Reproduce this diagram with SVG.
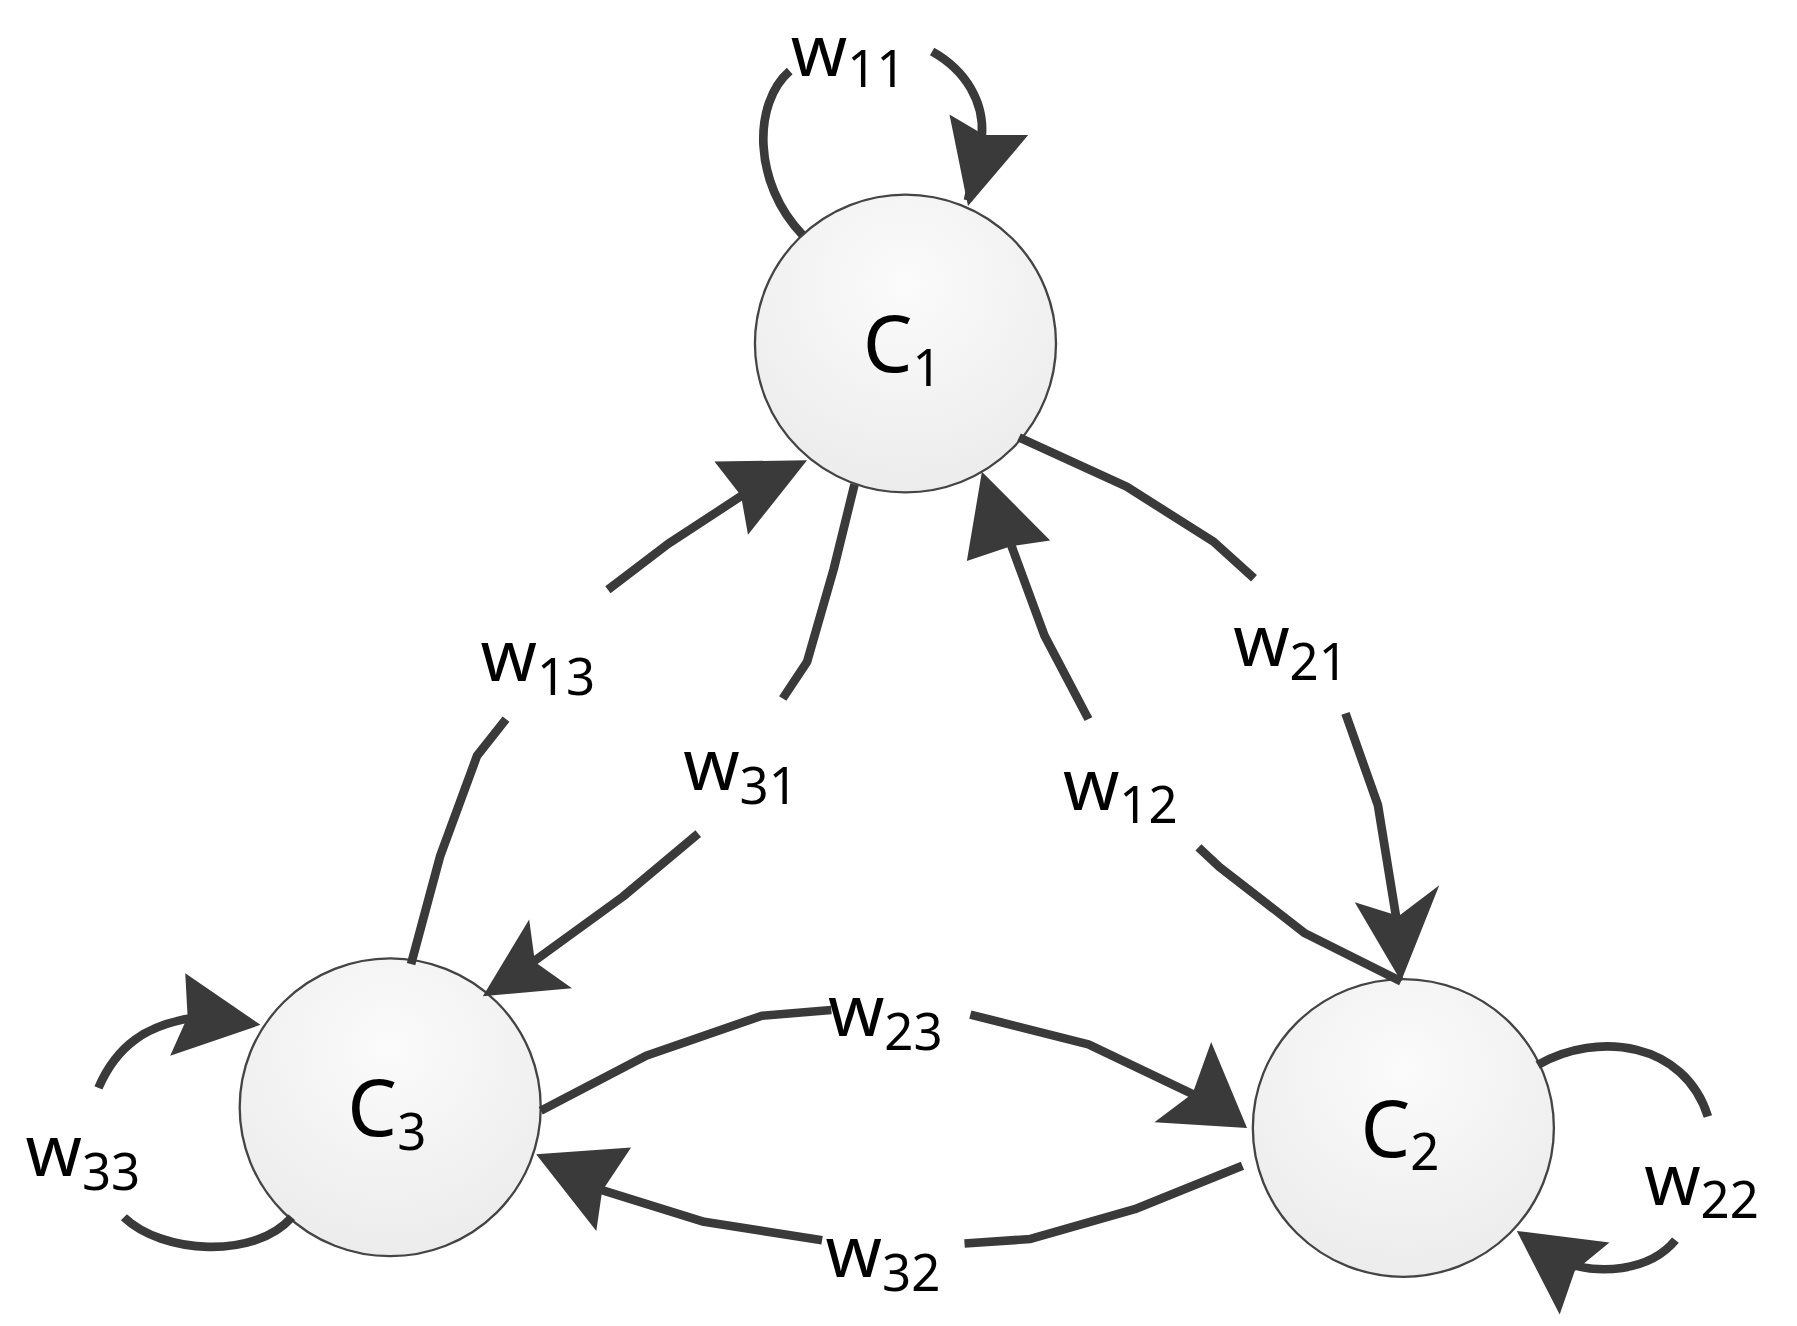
<svg xmlns="http://www.w3.org/2000/svg" width="1797" height="1326" viewBox="0 0 1797 1326">
<defs>
<radialGradient id="g" cx="0.5" cy="0.3" r="0.7"><stop offset="0" stop-color="#fbfbfb"/><stop offset="1" stop-color="#ececec"/></radialGradient>
<style>
.n{fill:url(#g);stroke:#444;stroke-width:2}
.e{fill:none;stroke:#3a3a3a;stroke-width:7.5;stroke-linejoin:round}
.h{fill:#3a3a3a}
.t{font-family:"Noto Sans","Open Sans","Liberation Sans",sans-serif;fill:#000}
.w{font-size:62px}
.s{font-size:44px}
.c{font-size:68px}
</style>
</defs>
<rect width="1797" height="1326" fill="#fff"/>
<g transform="scale(1.1579,1.1451)">
<g id="C1"><circle class="n" cx="782" cy="300" r="130"/><text class="t c" x="745" y="325">C<tspan class="s" dy="12">1</tspan></text></g>
<g id="C3"><circle class="n" cx="337" cy="967" r="130"/><text class="t c" x="300" y="992">C<tspan class="s" dy="12">3</tspan></text></g>
<g id="C2"><circle class="n" cx="1212" cy="985" r="130"/><text class="t c" x="1175" y="1010">C<tspan class="s" dy="12">2</tspan></text></g>
<g id="edges">
<path class="e" d="M693,205 C650,160 650,90 682,62"/>
<path class="e" d="M805,45 C835,62 850,90 848,118 L836,175"/>
<polygon class="h" points="836,180 820,100 850,118 888,118"/>
<path class="e" d="M355,842 L380,748 L412,660 L437,628"/>
<path class="e" d="M525,515 L577,475 L660,420"/>
<polygon class="h" points="697,402 646,467 640,433 617,403"/>
<path class="e" d="M738,423 L720,497 L697,578 L676,610"/>
<path class="e" d="M603,728 L538,783 L440,855"/>
<polygon class="h" points="417,870 457,803 462,840 494,863"/>
<path class="e" d="M1035,740 L1053,757 L1127,815 L1210,857"/>
<path class="e" d="M940,628 L902,555 L862,445"/>
<polygon class="h" points="848,412 907,472 873,477 835,490"/>
<path class="e" d="M880,382 L973,425 L1048,473 L1083,505"/>
<path class="e" d="M1162,623 L1190,703 L1208,815"/>
<polygon class="h" points="1210,857 1170,788 1208,800 1243,773"/>
<path class="e" d="M467,970 L558,922 L658,887 L718,882"/>
<path class="e" d="M838,886 L940,912 L1050,965"/>
<polygon class="h" points="1077,985 997,980 1030,955 1046,910"/>
<path class="e" d="M1073,1018 L980,1056 L890,1082 L833,1086"/>
<path class="e" d="M710,1083 L608,1067 L490,1030"/>
<polygon class="h" points="463,1008 545,1002 520,1040 515,1075"/>
<path class="e" d="M1328,930 C1380,900 1455,910 1475,975"/>
<path class="e" d="M1447,1083 C1425,1110 1380,1115 1345,1100"/>
<polygon class="h" points="1310,1075 1390,1085 1360,1110 1347,1148"/>
<path class="e" d="M85,950 C100,915 125,893 175,888 L195,888"/>
<polygon class="h" points="225,895 147,922 162,888 160,850"/>
<path class="e" d="M107,1063 C140,1095 220,1100 252,1063"/>
</g>
<g id="labels">
<text class="t w" x="683" y="66">w<tspan class="s" dy="10">11</tspan></text>
<text class="t w" x="415" y="595">w<tspan class="s" dy="12">13</tspan></text>
<text class="t w" x="590" y="690">w<tspan class="s" dy="12">31</tspan></text>
<text class="t w" x="1065" y="582">w<tspan class="s" dy="12">21</tspan></text>
<text class="t w" x="918" y="707">w<tspan class="s" dy="12">12</tspan></text>
<text class="t w" x="715" y="905">w<tspan class="s" dy="12">23</tspan></text>
<text class="t w" x="713" y="1115">w<tspan class="s" dy="12">32</tspan></text>
<text class="t w" x="1420" y="1052">w<tspan class="s" dy="12">22</tspan></text>
<text class="t w" x="22" y="1027">w<tspan class="s" dy="12">33</tspan></text>
</g>
</g>
</svg>
